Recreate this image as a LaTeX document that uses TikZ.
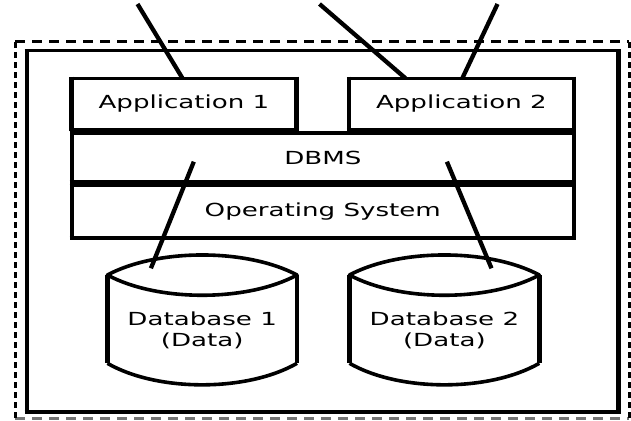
\documentclass[tikz,border=0pt]{standalone}
\usepackage{fontspec}
\setmainfont{DejaVu Sans}[FakeStretch=1.45]
\begin{document}
\begin{tikzpicture}[x=1pt,y=-1pt,
  box/.style={inner sep=0pt, outer sep=0pt, font=\fontsize{18}{21}\selectfont},
  hline/.style={line width=3.2pt, shorten <=-2.25pt, shorten >=-2.25pt},
  vline/.style={line width=4.5pt, shorten <=-1.6pt, shorten >=-1.6pt},
  conn/.style={line width=4.3pt},
  cylside/.style={line width=4.5pt},
  cylarc/.style={line width=3.6pt},
  dashh/.style={line width=3pt, dash pattern=on 10pt off 7pt},
  dashv/.style={line width=3pt, dash pattern=on 6pt off 4pt},
  label/.style={align=center, inner sep=0pt, font=\fontsize{18}{21}\selectfont}]
\useasboundingbox (0,0) rectangle (631,420);

% dashed boundary
\draw[dashh] (15,42) -- (629,42);
\draw[dashh, black!55] (15,418) -- (629,418);
\draw[dashv] (15,42) -- (15,418);
\draw[dashv] (629.4,42) -- (629.4,418);

% solid system box
\node[box, minimum width=591.6pt, minimum height=361.3pt] (sys) at (322.6,231.35) {};

% layers
\node[box, minimum width=225.1pt, minimum height=51.2pt] (app1) at (183.95,103.9) {Application 1};
\node[box, minimum width=224.8pt, minimum height=51.2pt] (app2) at (461.4,103.9) {Application 2};
\node[box, minimum width=502pt, minimum height=49pt] (dbms) at (322.8,157.5) {DBMS};
\node[box, minimum width=502pt, minimum height=52.5pt] (os) at (322.8,211.75) {Operating System};

\foreach \n in {sys,app1,app2,dbms,os}{
  \draw[hline] (\n.north west) -- (\n.north east);
  \draw[hline] (\n.south west) -- (\n.south east);
  \draw[vline] (\n.north west) -- (\n.south west);
  \draw[vline] (\n.north east) -- (\n.south east);
}

% databases
\node[label] (db1) at (202.2,330.3) {Database 1\\(Data)};
\node[label] (db2) at (444.4,330.3) {Database 2\\(Data)};

\draw[cylside] (107.4,275) -- (107.4,363.3);
\draw[cylside] (297,275) -- (297,363.3);
\draw[cylarc, line join=round] (107.4,275) .. controls (157.4,248.3) and (247,248.3) .. (297,275)
  .. controls (247,302) and (157.4,302) .. (107.4,275) -- cycle;
\draw[cylarc] (107.4,363.3) .. controls (157.4,392) and (247,392) .. (297,363.3);

\draw[cylside] (349.5,275) -- (349.5,363.3);
\draw[cylside] (539.3,275) -- (539.3,363.3);
\draw[cylarc, line join=round] (349.5,275) .. controls (399.5,248.3) and (489.3,248.3) .. (539.3,275)
  .. controls (489.3,302) and (399.5,302) .. (349.5,275) -- cycle;
\draw[cylarc] (349.5,363.3) .. controls (399.5,392) and (489.3,392) .. (539.3,363.3);

% connectors
\coordinate (u1) at (137.5,4);
\coordinate (u2) at (319.5,4);
\coordinate (u3) at (497.5,4);
\draw[conn] (u1) -- ([xshift=111.1pt]app1.north west);
\draw[conn] (u2) -- ([xshift=56.5pt]app2.north west);
\draw[conn] (u3) -- ([xshift=113.3pt]app2.north west);
\draw[conn] ([xshift=-129pt,yshift=-4.2pt]dbms.center) -- ([xshift=-51.3pt,yshift=62pt]db1.center);
\draw[conn] ([xshift=124.1pt,yshift=-4.2pt]dbms.center) -- ([xshift=47.1pt,yshift=62pt]db2.center);
\end{tikzpicture}
\end{document}
